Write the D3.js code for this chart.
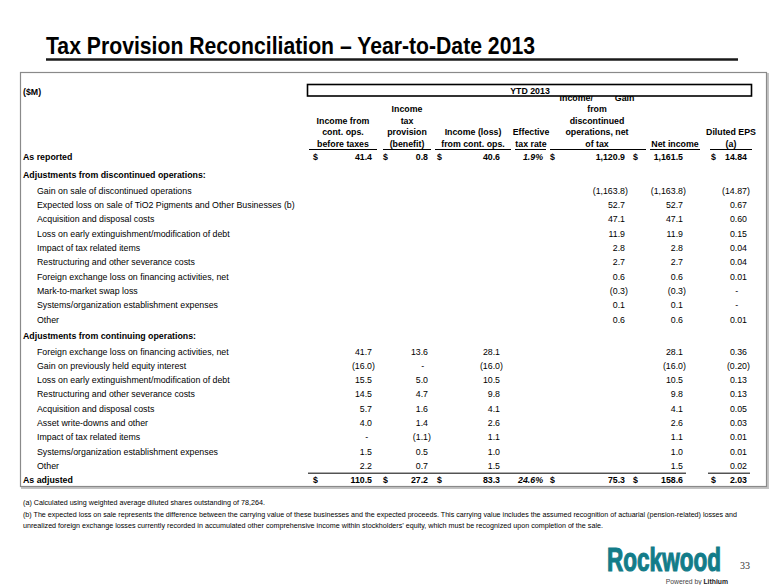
<!DOCTYPE html>
<html><head><meta charset="utf-8">
<script src="https://cdn.jsdelivr.net/npm/d3@7"></script>
<style>body{margin:0;background:#fff}svg{display:block}text{font-family:"Liberation Sans",Arial,sans-serif;fill:#000}</style>
</head><body><svg id="c" width="780" height="585"></svg>
<script>
// ---------------- DATA ----------------
const title = "Tax Provision Reconciliation \u2013 Year-to-Date 2013";
const unitLabel = "($M)";
const periodLabel = "YTD 2013";
const columnKeys = ["ibt","tax","ico","etr","disc","ni","eps"];
const columnHeaders = [
  ["Income from","cont. ops.","before taxes"],
  ["Income","tax","provision","(benefit)"],
  ["Income (loss)","from cont. ops."],
  ["Effective","tax rate"],
  ["Income/         Gain","from","discontinued","operations, net","of tax"],
  ["Net income"],
  ["Diluted EPS","(a)"]
];
const rowLabels = [
  "As reported",
  "Adjustments from discontinued operations:",
  "Gain on sale of discontinued operations",
  "Expected loss on sale of TiO2 Pigments and Other Businesses (b)",
  "Acquisition and disposal costs",
  "Loss on early extinguishment/modification of debt",
  "Impact of tax related items",
  "Restructuring and other severance costs",
  "Foreign exchange loss on financing activities, net",
  "Mark-to-market swap loss",
  "Systems/organization establishment expenses",
  "Other",
  "Adjustments from continuing operations:",
  "Foreign exchange loss on financing activities, net",
  "Gain on previously held equity interest",
  "Loss on early extinguishment/modification of debt",
  "Restructuring and other severance costs",
  "Acquisition and disposal costs",
  "Asset write-downs and other",
  "Impact of tax related items",
  "Systems/organization establishment expenses",
  "Other",
  "As adjusted"
];
const rowKinds = ["total","section","item","item","item","item","item","item","item","item","item","item",
  "section","item","item","item","item","item","item","item","item","item","total"];
const N = null;
const incomeBeforeTaxes = [41.4, N, N,N,N,N,N,N,N,N,N,N, N, 41.7,-16.0,15.5,14.5,5.7,4.0,0,1.5,2.2, 110.5];
const taxProvision      = [0.8,  N, N,N,N,N,N,N,N,N,N,N, N, 13.6,0,5.0,4.7,1.6,1.4,-1.1,0.5,0.7, 27.2];
const incomeContOps     = [40.6, N, N,N,N,N,N,N,N,N,N,N, N, 28.1,-16.0,10.5,9.8,4.1,2.6,1.1,1.0,1.5, 83.3];
const effectiveTaxRate  = [1.9,  N, N,N,N,N,N,N,N,N,N,N, N, N,N,N,N,N,N,N,N,N, 24.6];
const discontinuedOps   = [1120.9, N, -1163.8,52.7,47.1,11.9,2.8,2.7,0.6,-0.3,0.1,0.6, N, N,N,N,N,N,N,N,N,N, 75.3];
const netIncome         = [1161.5, N, -1163.8,52.7,47.1,11.9,2.8,2.7,0.6,-0.3,0.1,0.6, N, 28.1,-16.0,10.5,9.8,4.1,2.6,1.1,1.0,1.5, 158.6];
const dilutedEPS        = [14.84, N, -14.87,0.67,0.60,0.15,0.04,0.04,0.01,0,0,0.01, N, 0.36,-0.20,0.13,0.13,0.05,0.03,0.01,0.01,0.02, 2.03];
const footnotes = [
  "(a) Calculated using weighted average diluted shares outstanding of 78,264.",
  "(b) The expected loss on sale represents the difference between the carrying value of these businesses and the expected proceeds.  This carrying value includes the assumed recognition of actuarial (pension-related) losses and",
  "unrealized foreign exchange losses currently recorded in accumulated other comprehensive income within stockholders\u2019 equity, which must be recognized upon completion of the sale."
];
const logoText = "Rockwood";
const pageNumber = "33";

// ---------------- LAYOUT ----------------
const series = [incomeBeforeTaxes, taxProvision, incomeContOps, effectiveTaxRate, discontinuedOps, netIncome, dilutedEPS];
const decimals = [1,1,1,1,1,1,2];
const xRight  = d3.scaleOrdinal().domain(columnKeys).range([372,428,500,543,625,683,747]);
const xDollar = d3.scaleOrdinal().domain(columnKeys).range([313,383,437,null,550,633,711]);
const xHead   = d3.scaleOrdinal().domain(columnKeys).range([343,407,473,531,597,675,731]);
const ulExt   = d3.scaleOrdinal().domain(columnKeys).range([[309,377],[383,431],[435,511],[515,546],[550,646],[650,700],[710,752]]);

const slots = [];
let s = 0;
rowKinds.forEach((k,i)=>{
  if(i>0){
    const p = rowKinds[i-1];
    s += (p==="total"&&k==="section")?1.26:(p==="section")?1.1:(k==="section")?1.14:(k==="total")?0.95:1;
  }
  slots.push(s);
});
const y = d3.scaleLinear().domain([0,1]).range([157,157+14.3]);
const FS = 8.8;
const digitW = FS*0.556;
const NARROW = "'Liberation Sans Narrow','Arial Narrow',sans-serif";

const svg = d3.select("#c");
svg.append("rect").attr("width",780).attr("height",585).attr("fill","#fff");

// title
svg.append("text").attr("x",46).attr("y",54)
  .style("font-family",NARROW)
  .attr("font-weight","bold").attr("font-size",24)
  .attr("textLength",489).attr("lengthAdjust","spacingAndGlyphs").text(title);
svg.append("line").attr("x1",46).attr("x2",738).attr("y1",59.5).attr("y2",59.5)
  .attr("stroke","#1a1a1a").attr("stroke-width",2.5);

// outer box
svg.append("rect").attr("x",22).attr("y",74).attr("width",746).attr("height",414)
  .attr("fill","none").attr("stroke","#c4c4c4").attr("stroke-width",2);
svg.append("rect").attr("x",20.5).attr("y",72.5).attr("width",746).attr("height",414)
  .attr("fill","#fff").attr("stroke","#8a8a8a").attr("stroke-width",1.2);

svg.append("text").attr("x",23).attr("y",95).attr("font-size",FS).attr("font-weight","bold").text(unitLabel);

// column headers (bottom-aligned)
const gH = svg.append("g").attr("font-size",FS).attr("font-weight","bold").attr("text-anchor","middle");
columnHeaders.forEach((lines,ci)=>{
  const key = columnKeys[ci];
  lines.forEach((ln,li)=>{
    gH.append("text").attr("x",xHead(key)).attr("y",146.5-(lines.length-1-li)*11.4)
      .style("white-space","pre").text(ln);
  });
  const e = ulExt(key);
  svg.append("line").attr("x1",e[0]).attr("x2",e[1]).attr("y1",149.5).attr("y2",149.5)
    .attr("stroke","#000").attr("stroke-width",1);
});

// period box (drawn over top header line)
svg.append("rect").attr("x",307.5).attr("y",84.5).attr("width",444).attr("height",11.5)
  .attr("fill","#fff").attr("stroke","#000").attr("stroke-width",1.6);
svg.append("text").attr("x",530).attr("y",93.5).attr("text-anchor","middle")
  .attr("font-size",FS).attr("font-weight","bold").text(periodLabel);

// row labels
const gRows = svg.append("g").attr("font-size",FS);
rowLabels.forEach((lab,i)=>{
  const k = rowKinds[i];
  gRows.append("text").attr("x",k==="item"?37:23).attr("y",y(slots[i])).attr("dy","0.35em")
    .attr("font-weight",k==="item"?"normal":"bold").text(lab);
});

// values
function fmt(v,d){
  const f = d3.format(",."+d+"f");
  return v<0 ? "("+f(-v)+")" : f(v);
}
series.forEach((arr,ci)=>{
  const key = columnKeys[ci], d = decimals[ci];
  arr.forEach((v,i)=>{
    if(v===null) return;
    const bold = rowKinds[i]==="total";
    const yy = y(slots[i]);
    const t = gRows.append("text").attr("y",yy).attr("dy","0.35em").attr("text-anchor","end")
      .attr("font-weight",bold?"bold":"normal");
    if(key==="etr"){
      t.attr("x",xRight(key)).attr("font-style","italic").text(d3.format(".1f")(v)+"%");
    } else if(v===0){
      t.attr("x",xRight(key)-d*digitW+1).text("-");
    } else if(v<0){
      t.attr("x",xRight(key)+FS*0.333).text(fmt(v,d));
    } else {
      t.attr("x",xRight(key)).text(fmt(v,d));
    }
    if(bold && xDollar(key)!==null){
      gRows.append("text").attr("x",xDollar(key)).attr("y",yy).attr("dy","0.35em")
        .attr("font-weight","bold").text("$");
    }
  });
});

// rule above "As adjusted"
const yRule = (y(slots[21])+y(slots[22]))/2 + 0.5;
[[308,686],[708,750]].forEach(e=>{
  svg.append("line").attr("x1",e[0]).attr("x2",e[1]).attr("y1",yRule).attr("y2",yRule)
    .attr("stroke","#000").attr("stroke-width",1);
});

// footnotes
const fnY = [505,517,528], fnW = [242,714,580];
footnotes.forEach((t,i)=>{
  svg.append("text").attr("x",23).attr("y",fnY[i])
    .style("font-family",NARROW)
    .attr("font-size",7.1).attr("textLength",fnW[i]).attr("lengthAdjust","spacingAndGlyphs").text(t);
});

// logo
svg.append("g").attr("transform","translate(607,571) scale(1,1.45)")
  .append("text").attr("x",0).attr("y",0)
  .style("font-family",NARROW)
  .style("fill","#137c89").attr("stroke","#137c89").attr("stroke-width",0.8)
  .attr("font-weight","bold").attr("font-size",22.5)
  .attr("textLength",114).attr("lengthAdjust","spacingAndGlyphs").text(logoText);
const pw = svg.append("text").attr("x",728).attr("y",584.3).attr("text-anchor","end")
  .style("font-family",NARROW)
  .attr("font-size",6.8).style("fill","#444");
pw.append("tspan").text("Powered by ");
pw.append("tspan").attr("font-weight","bold").style("fill","#222").text("Lithium");
svg.append("text").attr("x",740).attr("y",569)
  .style("font-family","'Liberation Serif','Times New Roman',serif")
  .attr("font-size",10).style("fill","#333").text(pageNumber);
</script></body></html>
